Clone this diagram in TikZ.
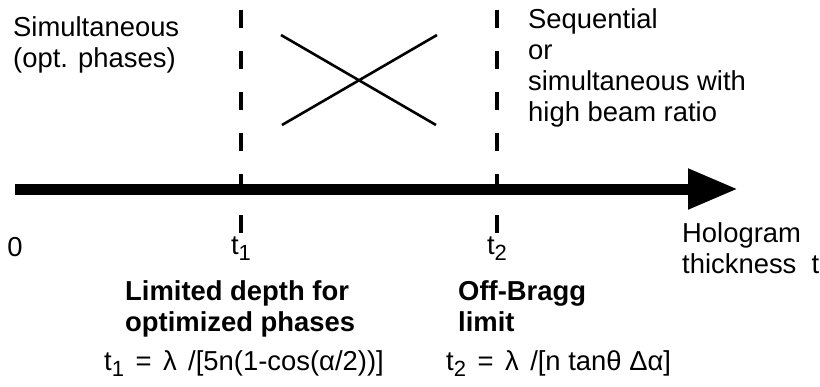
\documentclass[tikz,border=0pt]{standalone}
\usepackage{fontspec}
\setmainfont{Liberation Sans}
\usetikzlibrary{arrows.meta, positioning}
\newcommand{\lowsub}[1]{\raisebox{-0.45ex}{\fontsize{22}{22}\selectfont #1}}
\newcommand{\wsp}{\hspace{0.42em}}

\begin{document}
\begin{tikzpicture}[
    x=1pt, y=-1pt,
    txt/.style={anchor=base west, inner sep=0pt, align=left, font=\fontsize{27.4}{31}\selectfont},
    boldtxt/.style={anchor=base west, inner sep=0pt, align=left, font=\fontsize{27.4}{31}\selectfont\bfseries},
    ticklabel/.style={anchor=base, inner sep=0pt, font=\fontsize{27.4}{31}\selectfont},
    limitline/.style={line width=4pt, dash pattern=on 18pt off 23pt},
    crossline/.style={line width=2.6pt},
    axisarrow/.style={line width=11pt, -{Triangle[length=50pt, width=38pt]}}
]
\useasboundingbox (0,0) rectangle (820,386);

% Axis
\coordinate (origin) at (15,189);
\coordinate (tip) at (738,189);
\draw [axisarrow] (origin) -- (tip);

% Limits
\coordinate (t1top) at (241,10);
\coordinate (t1bot) at (241,233);
\coordinate (t2top) at (497,10);
\coordinate (t2bot) at (497,233);
\draw [limitline] (t1top) -- (t1bot);
\draw [limitline] (t2top) -- (t2bot);

% Cross
\coordinate (xa) at (281,35);
\coordinate (xb) at (436,125);
\coordinate (xc) at (437,35);
\coordinate (xd) at (282,125);
\draw [crossline] (xa) -- (xb);
\draw [crossline] (xc) -- (xd);

% Regions (base = last line)
\node [txt] (simul) at (13,67) {Simultaneous\\(opt. phases)};
\node [txt] (seq) at (528,121) {Sequential\\or\\simultaneous with\\high beam ratio};

% Axis labels
\node [ticklabel] (zero) at (15,256) {0};
\node [ticklabel] (tone) at (241,254) {t\lowsub{1}};
\node [ticklabel] (ttwo) at (497,254) {t\lowsub{2}};
\node [txt] (holo) at (682,273) {Hologram\\thickness\ \ t};

% Limit descriptions
\node [boldtxt] (depth) at (125,331) {Limited depth for\\optimized phases};
\node [boldtxt] (bragg) at (458,331) {Off-Bragg\\limit};
\node [txt] (fone) at (104,370) {t\lowsub{1}\wsp=\wsp λ\wsp/[5n(1-cos(α/2))]};
\node [txt] (ftwo) at (446,370) {t\lowsub{2}\wsp=\wsp λ\wsp/[n tanθ Δα]};

\end{tikzpicture}
\end{document}
